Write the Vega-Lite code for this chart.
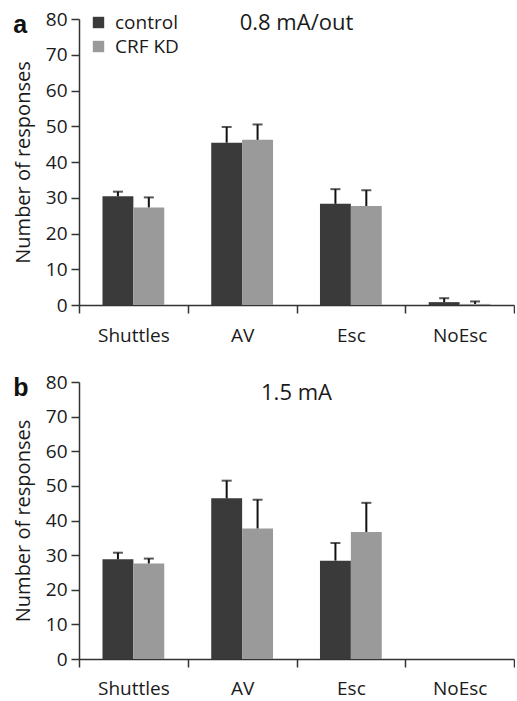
{
  "$schema": "https://vega.github.io/schema/vega-lite/v6.json",
  "padding": {"left": 13, "top": 10, "right": 0, "bottom": 2},
  "background": "white",
  "config": {
    "font": "Open Sans",
    "view": {"stroke": null},
    "concat": {"spacing": 28},
    "axis": {
      "domainColor": "#333333",
      "domainWidth": 1.5,
      "tickColor": "#333333",
      "tickWidth": 1.5,
      "tickSize": 8,
      "labelColor": "#1a1a1a",
      "labelFontSize": 19,
      "titleColor": "#1a1a1a",
      "titleFontSize": 20,
      "titleFontWeight": "normal",
      "grid": false
    }
  },
  "datasets": {
    "a": [
      {"cat": "Shuttles", "group": "control", "value": 30.4, "err": 31.7},
      {"cat": "Shuttles", "group": "CRF KD", "value": 27.3, "err": 30.1},
      {"cat": "AV", "group": "control", "value": 45.4, "err": 49.8},
      {"cat": "AV", "group": "CRF KD", "value": 46.2, "err": 50.5},
      {"cat": "Esc", "group": "control", "value": 28.3, "err": 32.4},
      {"cat": "Esc", "group": "CRF KD", "value": 27.7, "err": 32.1},
      {"cat": "NoEsc", "group": "control", "value": 0.8, "err": 1.9},
      {"cat": "NoEsc", "group": "CRF KD", "value": 0.3, "err": 1.0}
    ],
    "b": [
      {"cat": "Shuttles", "group": "control", "value": 28.8, "err": 30.7},
      {"cat": "Shuttles", "group": "CRF KD", "value": 27.6, "err": 29.0},
      {"cat": "AV", "group": "control", "value": 46.4, "err": 51.5},
      {"cat": "AV", "group": "CRF KD", "value": 37.7, "err": 46.0},
      {"cat": "Esc", "group": "control", "value": 28.4, "err": 33.5},
      {"cat": "Esc", "group": "CRF KD", "value": 36.7, "err": 45.1},
      {"cat": "NoEsc", "group": "control", "value": 0, "err": null},
      {"cat": "NoEsc", "group": "CRF KD", "value": 0, "err": null}
    ]
  },
  "resolve": {"scale": {"color": "independent"}, "legend": {"color": "independent"}},
  "vconcat": [
    {
      "title": {"text": "a", "anchor": "start", "frame": "bounds", "fontSize": 25, "fontWeight": "bold", "font": "Liberation Sans", "color": "#111111", "offset": -28},
      "vconcat": [
        {
          "width": 435,
          "height": 286,
          "data": {"name": "a"},
          "title": {"text": "0.8 mA/out", "anchor": "middle", "frame": "group", "fontSize": 22, "fontWeight": "normal", "color": "#1a1a1a", "offset": -25},
          "encoding": {
            "x": {"field": "cat", "type": "nominal", "sort": ["Shuttles", "AV", "Esc", "NoEsc"], "scale": {"paddingInner": 0, "paddingOuter": 0}, "axis": {"title": null, "labelAngle": 0, "tickBand": "extent", "labelPadding": 13}}
          },
          "layer": [
            {
              "mark": {"type": "bar"},
              "encoding": {
                "xOffset": {"field": "group", "type": "nominal", "sort": ["control", "CRF KD"], "scale": {"paddingInner": 0, "paddingOuter": 0.76}},
                "y": {"field": "value", "type": "quantitative", "scale": {"domain": [0, 80], "nice": false}, "axis": {"title": "Number of responses", "tickCount": 9, "tickMinStep": 10, "labelOverlap": false, "labelPadding": 4, "titlePadding": 12}},
                "color": {"field": "group", "type": "nominal", "sort": ["control", "CRF KD"], "scale": {"domain": ["control", "CRF KD"], "range": ["#3a3a3a", "#9a9a9a"]},
                  "legend": {"title": null, "orient": "none", "legendX": 10, "legendY": -6, "symbolType": "square", "symbolSize": 130, "symbolStrokeWidth": 0, "symbolOpacity": 1, "labelFontSize": 19, "labelColor": "#1a1a1a", "labelOffset": 7, "rowPadding": 4}}
              }
            },
            {
              "mark": {"type": "rule", "strokeWidth": 2, "color": "#111111"},
              "encoding": {"xOffset": {"field": "group", "type": "nominal", "sort": ["control", "CRF KD"]}, "y": {"field": "value", "type": "quantitative"}, "y2": {"field": "err"}}
            },
            {
              "mark": {"type": "tick", "thickness": 2, "size": 10, "color": "#111111"},
              "encoding": {"xOffset": {"field": "group", "type": "nominal", "sort": ["control", "CRF KD"]}, "y": {"field": "err", "type": "quantitative"}}
            }
          ]
        }
      ]
    },
    {
      "title": {"text": "b", "anchor": "start", "frame": "bounds", "fontSize": 25, "fontWeight": "bold", "font": "Liberation Sans", "color": "#111111", "offset": -28},
      "vconcat": [
        {
          "width": 435,
          "height": 277,
          "data": {"name": "b"},
          "title": {"text": "1.5 mA", "anchor": "middle", "frame": "group", "fontSize": 22, "fontWeight": "normal", "color": "#1a1a1a", "offset": -32},
          "encoding": {
            "x": {"field": "cat", "type": "nominal", "sort": ["Shuttles", "AV", "Esc", "NoEsc"], "scale": {"paddingInner": 0, "paddingOuter": 0}, "axis": {"title": null, "labelAngle": 0, "tickBand": "extent", "labelPadding": 12}}
          },
          "layer": [
            {
              "mark": {"type": "bar"},
              "encoding": {
                "xOffset": {"field": "group", "type": "nominal", "sort": ["control", "CRF KD"], "scale": {"paddingInner": 0, "paddingOuter": 0.76}},
                "y": {"field": "value", "type": "quantitative", "scale": {"domain": [0, 80], "nice": false}, "axis": {"title": "Number of responses", "tickCount": 9, "tickMinStep": 10, "labelOverlap": false, "labelPadding": 4, "titlePadding": 12}},
                "color": {"field": "group", "type": "nominal", "sort": ["control", "CRF KD"], "scale": {"domain": ["control", "CRF KD"], "range": ["#3a3a3a", "#9a9a9a"]}, "legend": null}
              }
            },
            {
              "mark": {"type": "rule", "strokeWidth": 2, "color": "#111111"},
              "encoding": {"xOffset": {"field": "group", "type": "nominal", "sort": ["control", "CRF KD"]}, "y": {"field": "value", "type": "quantitative"}, "y2": {"field": "err"}}
            },
            {
              "mark": {"type": "tick", "thickness": 2, "size": 10, "color": "#111111"},
              "encoding": {"xOffset": {"field": "group", "type": "nominal", "sort": ["control", "CRF KD"]}, "y": {"field": "err", "type": "quantitative"}}
            }
          ]
        }
      ]
    }
  ]
}
